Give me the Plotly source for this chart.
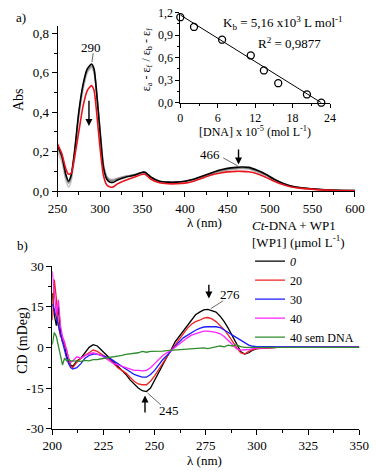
import plotly.graph_objects as go

# ---------------- Panel a) UV-Vis ----------------
wl = [250,255,260,263,266,270,275,280,285,290,293,296,300,304,308,312,316,320,330,340,
      350,353,356,360,370,380,390,400,410,420,430,440,450,460,466,475,485,495,505,515,
      525,540,560,580,600]
abs_black = [0.23,0.18,0.08,0.05,0.08,0.20,0.40,0.54,0.62,0.645,0.62,0.50,0.30,0.12,0.06,0.045,0.045,0.055,0.07,0.08,
             0.095,0.095,0.085,0.07,0.05,0.045,0.045,0.05,0.06,0.075,0.09,0.105,0.115,0.12,0.122,0.12,0.105,0.085,0.06,0.04,
             0.025,0.015,0.008,0.004,0.002]
abs_gray1 = [0.22,0.17,0.07,0.04,0.07,0.19,0.39,0.53,0.61,0.635,0.61,0.50,0.31,0.13,0.07,0.055,0.055,0.062,0.075,0.083,
             0.095,0.094,0.085,0.07,0.05,0.045,0.045,0.05,0.058,0.072,0.087,0.10,0.11,0.115,0.117,0.115,0.10,0.082,0.058,0.038,
             0.024,0.014,0.007,0.004,0.002]
abs_gray2 = [0.20,0.15,0.05,0.02,0.05,0.17,0.37,0.51,0.60,0.625,0.60,0.50,0.32,0.14,0.075,0.06,0.06,0.065,0.075,0.08,
             0.09,0.09,0.082,0.068,0.048,0.043,0.043,0.048,0.056,0.07,0.084,0.097,0.107,0.112,0.113,0.112,0.098,0.08,0.056,0.036,
             0.023,0.013,0.007,0.003,0.002]
abs_red = [0.24,0.19,0.11,0.085,0.09,0.17,0.30,0.43,0.51,0.535,0.51,0.40,0.22,0.08,0.03,0.02,0.022,0.035,0.055,0.07,
           0.085,0.085,0.075,0.06,0.042,0.037,0.037,0.04,0.05,0.065,0.08,0.09,0.097,0.10,0.10,0.098,0.088,0.07,0.05,0.033,
           0.02,0.012,0.006,0.003,0.001]

# inset
dna_conc = [0, 2.2, 6.7, 11.3, 13.4, 15.7, 20.3, 22.6]
eps_ratio = [1.14, 1.01, 0.84, 0.63, 0.43, 0.26, 0.11, 0.0]
fit_x = [0, 22.6]
fit_y = [1.17, 0.0]

# ---------------- Panel b) CD ----------------
cd_wl = [200,201,202,203,204,205,206,207,208,209,210,
         212,214,216,218,220,222,224,226,228,230,232,234,236,238,240,242,244,246,248,250,
         252,254,256,258,260,262,264,266,268,270,272,274,276,278,280,282,284,286,288,290,
         292,294,296,298,300,310,320,330,340,350]
cd_0 = [20,12,8,15,6,2,1,-3,-5,-6.5,-7,
        -5,-4,-2,0,1,0.5,-1,-2.5,-4,-5.5,-7,-8.5,-10,-12,-13.5,-15,-16,-16.3,-15,-12,
        -9,-6,-3.5,-1,2,4,6,8,10,12,13,13.8,14,13.5,13,11.5,9.5,7,4,1.5,
        -1.5,-2.5,-2,-1,-0.5,0,0,0.2,0.1,0]
cd_20 = [10,25,18,8,4,3,1,-1,-4,-7,-7.5,
         -5.5,-4,-3,-2,-1,-1.5,-2.5,-3.5,-4.5,-6,-7.5,-8.5,-9.5,-11,-12.5,-13.5,-13.8,-13.8,-12.5,-10.5,
         -8,-5.5,-3.5,-1.2,1,3,5,7,8.5,9.5,10,10.8,11,10.5,9.5,8,6.5,4.5,2,0,
         -2,-2.5,-1.5,-0.8,-0.5,0,0,0.2,0.2,0.2]
cd_30 = [16,14,11,8,4,2,-1,-4,-6,-7.5,-8,
         -7.5,-6,-4,-3,-2.5,-2.5,-3,-3.5,-4,-5,-6,-7,-8,-9,-10,-10.5,-11,-11,-10,-8.5,
         -6.5,-4.5,-3,-1.2,0.5,2,3.5,4.5,5.5,6.3,7,7.5,7.6,7.7,7.6,7.3,6.5,5.5,4.5,3.5,
         2.5,1.5,0.8,0.4,0.3,0.3,0.3,0.2,0.2,0.2]
cd_40 = [28,20,12,17.5,8,4,2,-1,-4,-5.5,-5,
         -3.5,-4,-3,-2.5,-2,-2.5,-3,-4,-5,-6,-6.5,-7,-7.5,-8,-8.5,-8.5,-8.7,-8.5,-7.5,-6,
         -4.5,-3,-2,-1.2,0,1.2,2.5,3.5,4.5,5,5.5,6,6,5.8,5.5,5,4,2.5,1,-0.5,
         -1,-1,-0.8,-0.5,-0.3,0,0,0,0,0]
cd_40_noDNA = [1,5.5,4,0,-3,-6.5,-4,-5,-4.5,-5,-5,
               -5,-5.2,-4.8,-5,-4.5,-4.5,-4.2,-4,-3.8,-3.5,-3.2,-3,-2.6,-2.4,-2,-2,-1.5,-1.8,-1.5,-1.5,
               -1.3,-1.4,-1.2,-1.1,-1,-1,-0.9,-0.8,-0.7,-0.5,-0.5,-0.2,-0.5,-0.2,0,0.5,0.2,0.8,0.5,1,
               0.3,0,0,0,0,0,0,0,0,0]
cd_names = ["<i>0</i>", "20", "30", "40", "40 sem DNA"]
cd_colors = ["#000000", "#ee2222", "#1a1aff", "#ff22ff", "#2e8b2e"]

FONT = "Liberation Serif, Times New Roman, serif"
fig = go.Figure()

# UV-Vis traces
for y, c in [(abs_gray2, "#c8c8c8"), (abs_gray1, "#8c8c8c"), (abs_black, "#000000"), (abs_red, "#e8141c")]:
    fig.add_trace(go.Scatter(x=wl, y=y, mode="lines", line=dict(color=c, width=1.6, shape="spline", smoothing=0.6),
                             xaxis="x", yaxis="y", showlegend=False))

# inset
fig.add_trace(go.Scatter(x=fit_x, y=fit_y, mode="lines", line=dict(color="black", width=1),
                         xaxis="x2", yaxis="y2", showlegend=False))
fig.add_trace(go.Scatter(x=dna_conc, y=eps_ratio, mode="markers",
                         marker=dict(symbol="circle-open", size=7, color="black", line=dict(width=1.3)),
                         xaxis="x2", yaxis="y2", showlegend=False, cliponaxis=False))

# CD traces
for y, n, c in zip([cd_0, cd_20, cd_30, cd_40, cd_40_noDNA], cd_names, cd_colors):
    fig.add_trace(go.Scatter(x=cd_wl, y=y, mode="lines", name=n, line=dict(color=c, width=1.3),
                             xaxis="x3", yaxis="y3"))

def axis(size=13, ticklen=5, **kw):
    d = dict(showline=True, linecolor="black", linewidth=1, ticks="outside", ticklen=ticklen,
             tickcolor="black", showgrid=False, zeroline=False, mirror=False, automargin=False,
             tickfont=dict(family=FONT, size=size, color="black"))
    d.update(kw)
    return d

fig.update_layout(
    template="none",
    width=376, height=474,
    margin=dict(l=0, r=0, t=0, b=0, pad=0),
    paper_bgcolor="white", plot_bgcolor="rgba(0,0,0,0)",
    separators=",.",
    font=dict(family=FONT, size=13, color="black"),
    xaxis=axis(domain=[0.153, 0.944], range=[250, 600], anchor="y", dtick=50, tick0=250,
               minor=dict(ticks="outside", ticklen=3, dtick=25, tickcolor="black")),
    yaxis=axis(domain=[0.597, 0.946], range=[0, 0.84], anchor="x", dtick=0.2, tickformat=".1f",
               minor=dict(ticks="outside", ticklen=3, dtick=0.1, tickcolor="black")),
    xaxis2=axis(size=12, ticklen=4, domain=[0.4795, 0.8777], range=[0, 24], anchor="y2", dtick=6,
                minor=dict(ticks="outside", ticklen=2, dtick=3, tickcolor="black")),
    yaxis2=axis(size=12, ticklen=4, domain=[0.7833, 0.9732], range=[0, 1.2], anchor="x2", dtick=0.3,
                tickformat=".1f", minor=dict(ticks="outside", ticklen=2, dtick=0.15, tickcolor="black")),
    xaxis3=axis(domain=[0.139, 0.9556], range=[200, 350], anchor="y3", dtick=25,
                minor=dict(ticks="outside", ticklen=3, dtick=12.5, tickcolor="black")),
    yaxis3=axis(domain=[0.0956, 0.4388], range=[-30, 30], anchor="x3",
                tickvals=[-30, -15, 0, 15, 30], ticktext=["-30", "-15", "0", "15", "30"],
                minor=dict(ticks="outside", ticklen=3, tickvals=[-22.5, -7.5, 7.5, 22.5], tickcolor="black")),
    legend=dict(x=0.665, y=0.551, xanchor="left", yanchor="top", bgcolor="rgba(0,0,0,0)",
                font=dict(family=FONT, size=12), tracegroupgap=0, itemwidth=30,
                title=dict(text="<i>Ct</i>-DNA + WP1<br>[WP1] (μmol L<sup>-1</sup>)", side="top",
                           font=dict(family=FONT, size=13))),
)

ann = []
def txt(t, x, y, size=13, xref="paper", yref="paper", angle=0, xanchor="center"):
    ann.append(dict(text=t, x=x, y=y, xref=xref, yref=yref, showarrow=False, textangle=angle,
                    xanchor=xanchor, yanchor="middle", font=dict(family=FONT, size=size, color="black")))

txt("a)", 0.055, 0.964)
txt("b)", 0.06, 0.483)
txt("Abs", 0.048, 0.789, 14, angle=-90)
txt("λ (nm)", 0.545, 0.530, 13)
txt("CD (mDeg)", 0.061, 0.283, 14, angle=-90)
txt("λ (nm)", 0.545, 0.028, 13)
txt("K<sub>b</sub> = 5,16 x10<sup>3</sup> L mol<sup>-1</sup>", 0.7527, 0.952, 13)
txt("R<sup>2</sup> = 0,9877", 0.771, 0.909, 13)
txt("ε<sub>a</sub> - ε<sub>f</sub> / ε<sub>b</sub> - ε<sub>f</sub>", 0.391, 0.873, 12, angle=-90)
txt("[DNA] x 10<sup>-5</sup> (mol L<sup>-1</sup>)", 0.678, 0.722, 12)
txt("290", 289, 0.73, 13, "x", "y")
txt("466", 430, 0.187, 13, "x", "y")
txt("276", 287, 19.5, 13, "x3", "y3")
txt("245", 257, -23.3, 13, "x3", "y3")

def arrow(x, y0, y1, xr, yr):
    ann.append(dict(x=x, y=y1, ax=x, ay=y0, xref=xr, yref=yr, axref=xr, ayref=yr, text="",
                    showarrow=True, arrowhead=2, arrowsize=1, arrowwidth=1.4, arrowcolor="black"))

arrow(287, 0.466, 0.33, "x", "y")
arrow(463, 0.218, 0.135, "x", "y")
arrow(276.5, 23.6, 18, "x3", "y3")
arrow(245.3, -24.6, -17.8, "x3", "y3")
fig.update_layout(annotations=ann)

def leader(x0, y0, x1, y1, xr, yr):
    fig.add_shape(type="line", x0=x0, y0=y0, x1=x1, y1=y1, xref=xr, yref=yr,
                  line=dict(color="#444444", width=0.8))

leader(292, 0.70, 290.5, 0.655, "x", "y")
leader(445, 0.168, 462, 0.128, "x", "y")
leader(283.5, 17.2, 277.5, 14.3, "x3", "y3")
leader(253, -21.2, 246.5, -16.8, "x3", "y3")

fig.write_html("out.html", config={"displayModeBar": False},
               post_script="document.body.style.margin='0px';document.body.style.overflow='hidden';")
